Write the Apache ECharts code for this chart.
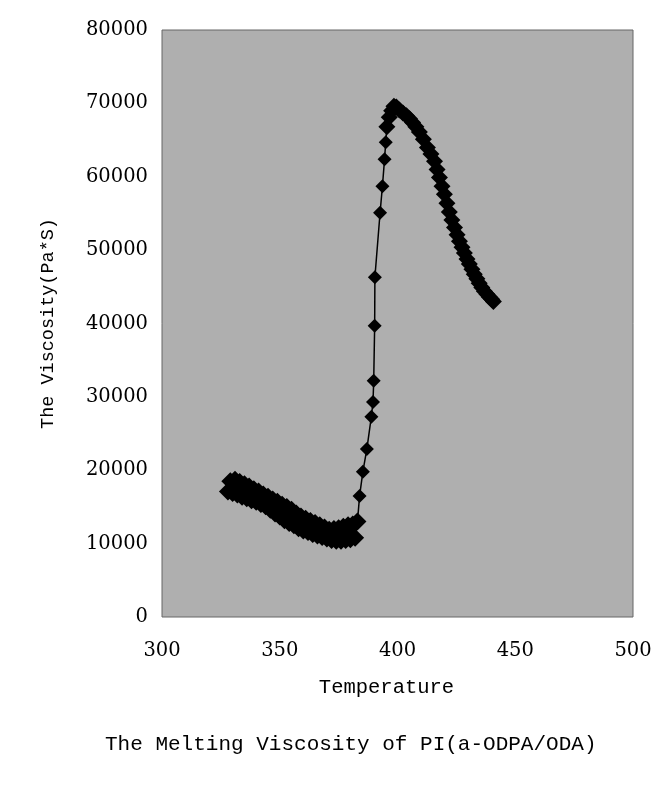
<!DOCTYPE html>
<html>
<head>
<meta charset="utf-8">
<script src="https://cdn.jsdelivr.net/npm/echarts@6/dist/echarts.min.js"></script>
<style>
html,body{margin:0;padding:0;background:#fff;}
#chart{width:655px;height:785px;}
</style>
</head>
<body>
<div id="chart"></div>
<script>
// Low-temperature plateau (dense, overlapping markers)
var tempLow = [328,329,330,331,332,333,334,335,336,337,338,339,340,341,342,343,344,345,346,347,348,349,350,351,352,353,354,355,356,357,358,359,360,361,362,363,364,365,366,367,368,369,370,371,372,373,374,375,376,377,378,379,380,381,382,383];
var viscLow = [17100,18500,16900,18700,16700,18400,16400,18100,16200,17800,15900,17400,15700,17100,15400,16700,15100,16400,14600,16000,14100,15700,13700,15300,13200,15000,12800,14600,12500,14100,12100,13700,11800,13400,11600,13100,11300,12800,11100,12500,10900,12200,10700,11900,10500,12000,10400,12100,10400,12300,10500,12500,10600,12600,10800,13000];
// Steep rise
var tempRise = [383.9,385.3,387.0,388.9,389.6,389.9,390.3,390.4,392.6,393.6,394.5,395.0];
var viscRise = [16500,19800,22900,27300,29300,32200,39700,46300,55100,58700,62400,64700];
// Peak and decline
var tempFall = [395.5,396.5,397.5,398.5,399.5,400.8,402.3,403.8,405.1,406.4,407.8,409.3,411.0,412.7,414.2,415.7,416.8,417.8,418.9,419.9,421.0,422.0,423.1,424.2,425.3,426.3,427.4,428.4,429.5,430.5,431.6,432.6,433.7,434.7,435.8,436.9,438.0,439.0,440.0,440.7];
var viscFall = [66800,68100,69000,69600,69500,69100,68700,68300,67900,67400,66800,66100,65100,64000,63100,62100,61000,59900,58700,57600,56400,55200,54100,53100,52100,51200,50400,49600,48800,48100,47400,46700,46100,45500,44900,44400,44000,43600,43300,43000];

var xTicks = {min:300, max:500, interval:50};
var yTicks = {min:0, max:80000, interval:10000};

var temps = tempLow.concat(tempRise, tempFall);
var visc = viscLow.concat(viscRise, viscFall);
var data = temps.map(function(t,i){return [t, visc[i]];});
var nLow = tempLow.length, nRise = tempRise.length;

var chart = echarts.init(document.getElementById('chart'));
chart.setOption({
  animation:false,
  backgroundColor:'#ffffff',
  title:{
    text:'The Melting Viscosity of PI(a-ODPA/ODA)',
    left:100, top:729,
    textStyle:{fontFamily:'Liberation Mono', fontSize:21, fontWeight:'normal', color:'#000'}
  },
  grid:{left:162, right:22, top:30, bottom:168, show:true, backgroundColor:'#afafaf', borderColor:'#666', borderWidth:1},
  xAxis:{
    type:'value', min:xTicks.min, max:xTicks.max, interval:xTicks.interval,
    name:'Temperature', nameLocation:'middle', nameGap:60,
    nameTextStyle:{fontFamily:'Liberation Mono', fontSize:20.5, color:'#000', padding:[0,22,0,0]},
    axisLine:{show:false}, axisTick:{show:false}, splitLine:{show:false},
    axisLabel:{fontFamily:'DejaVu Serif', fontSize:19.5, color:'#000', margin:24}
  },
  yAxis:{
    type:'value', min:yTicks.min, max:yTicks.max, interval:yTicks.interval,
    name:'The Viscosity(Pa*S)', nameLocation:'middle', nameGap:104,
    nameTextStyle:{fontFamily:'Liberation Mono', fontSize:18.5, color:'#000'},
    axisLine:{show:false}, axisTick:{show:false}, splitLine:{show:false},
    axisLabel:{fontFamily:'DejaVu Serif', fontSize:19.5, color:'#000', margin:14,
      formatter:function(v){return String(v);}}
  },
  series:[{
    type:'line', data:data, symbol:'diamond', showSymbol:true,
    symbolSize:function(v, p){ var i = p.dataIndex; return (i < nLow) ? 18 : (i < nLow + nRise ? 14 : 17); },
    itemStyle:{color:'#000'}, lineStyle:{color:'#000', width:1.5}
  }]
});
</script>
</body>
</html>
